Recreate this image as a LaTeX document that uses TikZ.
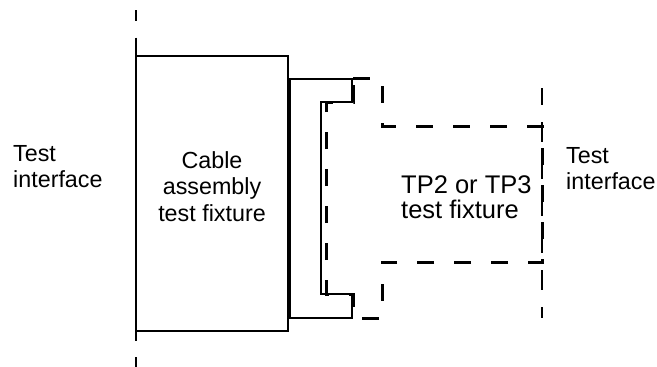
\documentclass[tikz,border=0pt]{standalone}
\usepackage{fontspec}
\setmainfont{Liberation Sans}
\usetikzlibrary{positioning,calc}

\begin{document}
\begin{tikzpicture}[
    x=1pt, y=-1pt,
    lbl/.style={inner sep=0pt, font=\fontsize{23.3pt}{26.5pt}\selectfont},
    biglbl/.style={inner sep=0pt, font=\fontsize{25.5pt}{25pt}\selectfont},
    fixbox/.style={draw, line width=1.4pt, rectangle, minimum width=152pt, minimum height=275pt, inner sep=0pt},
    plug/.style={draw, line width=2.4pt, line join=miter},
    mate/.style={draw, line width=3pt, dash pattern=on 17pt off 20pt, dash phase=0pt},
    iface/.style={draw, dash pattern=on 19pt off 16.5pt}
]
    \useasboundingbox (0,0) rectangle (657,367);

    % Test interface lines
    \coordinate (ifl_top) at (136,10);
    \coordinate (ifl_bot) at (136,367);
    \coordinate (ifr_top) at (542,88);
    \coordinate (ifr_bot) at (542,318);
    \path[iface, line width=1.3pt, dash phase=8pt] (ifl_top) -- (ifl_bot);
    \path[iface, line width=2.4pt, dash pattern=on 20pt off 17pt, dash phase=3pt] (ifr_top) -- (ifr_bot);

    % Cable assembly test fixture
    \node[fixbox] (cable) at (212,193.5) {};
    \node[lbl, align=center, anchor=north] (cable_lbl) at (212,151) {Cable\\assembly\\test fixture};

    % Plug
    \path[plug] (290,79) -- (352,79) -- (352,102) -- (321,102) -- (321,294)
        -- (352,294) -- (352,318) -- (290,318) -- cycle;

    % TP2 or TP3 test fixture
    \path[mate] (353,78) -- (382,78) -- (382,126) -- (542,126) -- (542,262)
        -- (382,262) -- (382,318) -- (353,318) -- (353,294) -- (326,294)
        -- (326,102) -- (353,102) -- cycle;
    \node[biglbl, align=left, anchor=north west] (tp_lbl) at (401,175) {TP2 or TP3\\test fixture};

    % Labels
    \node[lbl, align=left, anchor=north west] (if_left) at (13,145) {Test\\interface};
    \node[lbl, align=left, anchor=north west] (if_right) at (566,147) {Test\\interface};

\end{tikzpicture}
\end{document}
